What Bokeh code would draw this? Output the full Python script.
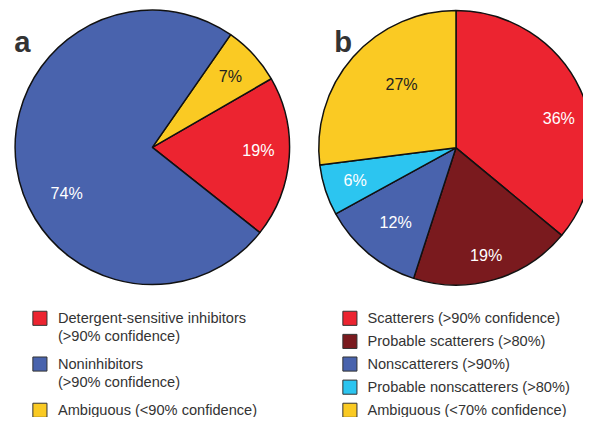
import math
from bokeh.plotting import figure
from bokeh.models import Range1d
from bokeh.embed import file_html
from bokeh.resources import INLINE
from bokeh.core.properties import value

# ---------------- data ----------------
a_legend = [["Detergent-sensitive inhibitors", "(>90% confidence)"],
            ["Noninhibitors", "(>90% confidence)"],
            ["Ambiguous (<90% confidence)"]]
a_values = [19, 74, 7]
a_colors = ["#EC2430", "#4963AD", "#FACA23"]
a_text_colors = ["white", "white", "#231F20"]

b_legend = ["Scatterers (>90% confidence)", "Probable scatterers (>80%)",
            "Nonscatterers (>90%)", "Probable nonscatterers (>80%)",
            "Ambiguous (<70% confidence)"]
b_values = [36, 19, 12, 6, 27]
b_colors = ["#EC2430", "#7A1A1E", "#4963AD", "#2CC5F0", "#FACA23"]
b_text_colors = ["white", "white", "white", "white", "#231F20"]

# ---------------- layout (reference pixel space) ----------------
REF_W, REF_H = 599, 433
W, H = 583, 417          # fits the 599x433 window with its 8px page margin
SX = W / REF_W
FONT = "Liberation Sans"

def Y(y):
    return REF_H - y

p = figure(width=W, height=H, x_range=Range1d(0, REF_W), y_range=Range1d(0, REF_H),
           output_backend="svg", toolbar_location=None, min_border=0,
           x_axis_location=None, y_axis_location=None, title=None)
p.grid.visible = False
p.outline_line_color = None

def fs(px):
    return value(f"{px * SX:.1f}px")

# ---- pie a: anticlockwise from -38.4 deg, order red, yellow, blue
a_cx, a_cy, R = 156, Y(152.5), 141
a_order = [0, 2, 1]
a_start_deg = -38.4
tot = sum(a_values)
starts, ends, cols = [], [], []
ang = a_start_deg
mid_a = {}
for i in a_order:
    span = a_values[i] / tot * 360
    starts.append(math.radians(ang)); ends.append(math.radians(ang + span))
    cols.append(a_colors[i]); mid_a[i] = ang + span / 2
    ang += span
p.wedge(x=a_cx, y=a_cy, radius=R, start_angle=starts, end_angle=ends,
        fill_color=cols, line_color="#111111", line_width=1.5)

a_lab_r = [109, 100, 109]
a_lab_off = [3.0, 20.0, 0.0]
lx, ly = [], []
for i in range(len(a_values)):
    t = math.radians(mid_a[i] + a_lab_off[i])
    lx.append(a_cx + a_lab_r[i] * math.cos(t)); ly.append(a_cy + a_lab_r[i] * math.sin(t))
p.text(x=lx, y=ly, text=[f"{v}%" for v in a_values], text_color=a_text_colors,
       text_align="center", text_baseline="middle", text_font=value(FONT), text_font_size=fs(16.5))

# ---- pie b: clockwise from 90 deg
b_cx, b_cy = 468, Y(153)
tot = sum(b_values)
starts, ends = [], []
cum = 0
mid_b = []
for v in b_values:
    s = 90 - (cum + v) / tot * 360
    e = 90 - cum / tot * 360
    starts.append(math.radians(s)); ends.append(math.radians(e))
    mid_b.append((s + e) / 2)
    cum += v
p.wedge(x=b_cx, y=b_cy, radius=R, start_angle=starts, end_angle=ends,
        fill_color=b_colors, line_color="#111111", line_width=1.5)

b_lab_r = [110, 115, 99, 109, 87]
b_lab_off = [-9.0, -0.6, 0.8, 0.0, -8.6]
lx, ly = [], []
for i in range(len(b_values)):
    t = math.radians(mid_b[i] + b_lab_off[i])
    lx.append(b_cx + b_lab_r[i] * math.cos(t)); ly.append(b_cy + b_lab_r[i] * math.sin(t))
p.text(x=lx, y=ly, text=[f"{v}%" for v in b_values], text_color=b_text_colors,
       text_align="center", text_baseline="middle", text_font=value(FONT), text_font_size=fs(16.5))

# ---- panel letters
p.text(x=[14, 343], y=[Y(43), Y(43)], text=["a", "b"], text_color="#333333",
       text_align="left", text_baseline="alphabetic", text_font=value(FONT),
       text_font_style="bold", text_font_size=fs(30))

# ---- legend a
a_rows = [330, 377.5, 425.5]
sq_size = 14.5
p.scatter(x=[40.5] * 3, y=[Y(r) for r in a_rows], marker="square", size=sq_size * SX,
          fill_color=a_colors, line_color="#333333", line_width=1)
tx, ty, tt = [], [], []
for r, lines in zip(a_rows, a_legend):
    for k, line in enumerate(lines):
        tx.append(59); ty.append(Y(r + k * 18.5)); tt.append(line)
p.text(x=tx, y=ty, text=tt, text_color="#333333", text_align="left", text_baseline="middle",
       text_font=value(FONT), text_font_size=fs(15))

# ---- legend b
b_rows = [330, 354, 377.5, 401.5, 425.5]
p.scatter(x=[359] * 5, y=[Y(r) for r in b_rows], marker="square", size=sq_size * SX,
          fill_color=b_colors, line_color="#333333", line_width=1)
p.text(x=[377] * 5, y=[Y(r) for r in b_rows], text=b_legend, text_color="#333333",
       text_align="left", text_baseline="middle", text_font=value(FONT), text_font_size=fs(15))

open("out.html", "w").write(file_html(p, INLINE))
